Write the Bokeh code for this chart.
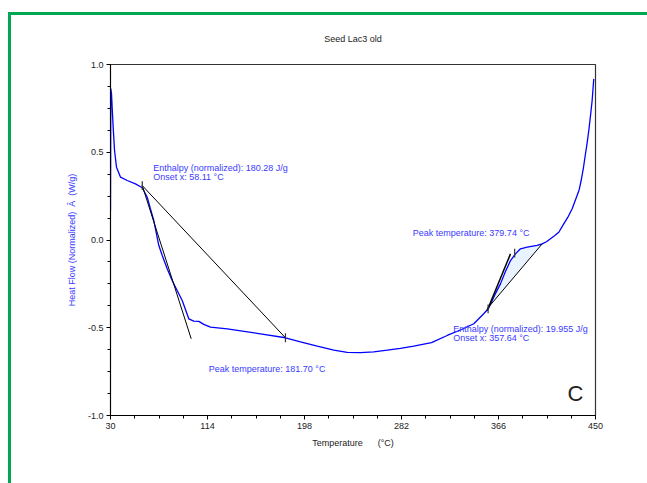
import numpy as np
from bokeh.plotting import figure
from bokeh.models import FixedTicker, Label, NumeralTickFormatter
from bokeh.embed import file_html
from bokeh.resources import INLINE

# ---- data ----
temperature = [30.0, 30.26, 30.87, 32.3, 33.5, 35.2, 38.7, 44.5, 51.6, 57.5, 61.8, 64.5, 67.5,
               71.8, 74.8, 79.1, 83.4, 86.3, 92.1, 97.8, 102.1, 106.5, 110.8, 116.6, 131.1,
               159.9, 181.5, 194.5, 209.0, 223.4, 235.0, 246.5, 258.0, 269.6, 281.1, 292.6,
               308.0, 321.6, 334.0, 344.6, 353.2, 357.3, 359.1, 363.0, 367.7, 372.0, 376.4, 380.7,
               385.0, 390.8, 399.5, 403.8, 407.5, 411.0, 414.5, 418.2, 422.5, 426.5, 429.8, 433.5,
               435.8, 437.6, 439.5, 441.3, 442.8, 444.2, 445.7, 447.1, 448.5]
heat_flow = [0.168, 0.863, 0.833, 0.643, 0.51, 0.415, 0.358, 0.339, 0.32, 0.298, 0.244, 0.18, 0.111,
             -0.03, -0.088, -0.164, -0.231, -0.269, -0.345, -0.449, -0.462, -0.464, -0.481, -0.497, -0.506,
             -0.535, -0.557, -0.58, -0.605, -0.628, -0.64, -0.642, -0.637, -0.628, -0.618, -0.605,
             -0.585, -0.544, -0.51, -0.477, -0.42, -0.39, -0.364, -0.31, -0.25, -0.18, -0.117, -0.079,
             -0.05, -0.041, -0.031, -0.022, -0.01, 0.007, 0.024, 0.044, 0.092, 0.135, 0.178, 0.244,
             0.285, 0.339, 0.41, 0.49, 0.555, 0.624, 0.71, 0.795, 0.918]

x_major = [30, 114, 198, 282, 366, 450]
x_minor = [51, 72, 93, 135, 156, 177, 219, 240, 261, 303, 324, 345, 387, 408, 429]
y_major = [-1.0, -0.5, 0.0, 0.5, 1.0]
y_minor = [-0.875, -0.75, -0.625, -0.375, -0.25, -0.125, 0.125, 0.25, 0.375, 0.625, 0.75, 0.875]

# analysis lines (temperature, heat flow)
tangent1_x = [57.5, 99.9]
tangent1_y = [0.31, -0.563]
baseline1_x = [57.5, 181.5]
baseline1_y = [0.31, -0.557]
tangent2_x = [356.2, 376.4]
tangent2_y = [-0.402, -0.079]
baseline2_x = [356.2, 403.8]
baseline2_y = [-0.392, -0.022]
peak1 = (181.5, -0.557)
peak2 = (380.0, -0.075)
onset1 = (57.5, 0.31)
onset2 = (357.0, -0.392)

BLUE = "#0000ff"
TXT_BLUE = "#3a3aff"
FONT = "Liberation Sans"
GREEN = "#00a651"

p = figure(width=647, height=483, output_backend="svg", toolbar_location=None,
           x_range=(30, 450), y_range=(-1.0, 1.0),
           min_border_left=110, min_border_right=52, min_border_top=64, min_border_bottom=68,
           title="Seed Lac3 old")
p.title.align = "center"
p.title.text_font = FONT
p.title.text_font_size = "9px"
p.title.text_font_style = "normal"
p.title.text_color = "#222222"
p.title.standoff = 42

p.border_fill_color = None
p.background_fill_color = "white"
g = "linear-gradient(%s,%s)" % (GREEN, GREEN)
p.styles = {
    "background": ", ".join([
        g + " 8px 12px / 3px 480px no-repeat",
        g + " 8px 12px / 640px 3px no-repeat",
        "white",
    ])
}

p.xgrid.visible = False
p.ygrid.visible = False
p.outline_line_color = "#333333"
p.outline_line_width = 1.2

for ax in (p.xaxis[0], p.yaxis[0]):
    ax.major_tick_out = 4
    ax.major_tick_in = 0
    ax.minor_tick_out = 3
    ax.minor_tick_in = 0
    ax.axis_line_color = "black"
    ax.major_tick_line_color = "black"
    ax.minor_tick_line_color = "black"
    ax.major_label_text_font = FONT
    ax.major_label_text_font_size = "9px"
    ax.major_label_text_color = "#222222"
    ax.axis_label_text_font = FONT
    ax.axis_label_text_font_size = "9px"
    ax.axis_label_text_font_style = "normal"
    ax.major_label_standoff = 3

p.xaxis.ticker = FixedTicker(ticks=x_major, minor_ticks=x_minor)
p.yaxis.ticker = FixedTicker(ticks=y_major, minor_ticks=y_minor)
p.yaxis.formatter = NumeralTickFormatter(format="0.0")
p.xaxis.axis_label = "Temperature\u00a0\u00a0\u00a0\u00a0\u00a0\u00a0(°C)"
p.xaxis.axis_label_text_color = "#222222"
p.xaxis.axis_label_standoff = 6
p.yaxis.axis_label = "Heat Flow (Normalized)\u00a0\u00a0Â\u00a0\u00a0(W/g)"
p.yaxis.axis_label_text_color = TXT_BLUE
p.yaxis.axis_label_standoff = 8

# filled area between curve and baseline (second event)
t = np.array(temperature)
h = np.array(heat_flow)
mask = (t > baseline2_x[0]) & (t < baseline2_x[1])
fx = [baseline2_x[0]] + list(t[mask]) + [baseline2_x[1]]
fy = [float(np.interp(baseline2_x[0], t, h))] + list(h[mask]) + [float(np.interp(baseline2_x[1], t, h))]
fx += [baseline2_x[1], baseline2_x[0]]
fy += [baseline2_y[1], baseline2_y[0]]
p.patch(fx, fy, fill_color="#e8f3ff", line_color=None)

# curve
p.line(temperature, heat_flow, line_color=BLUE, line_width=1.3)

# analysis lines
p.line(tangent1_x, tangent1_y, line_color="black", line_width=1)
p.line(baseline1_x, baseline1_y, line_color="black", line_width=1)
p.line(tangent2_x, tangent2_y, line_color="black", line_width=1.5)
p.line(baseline2_x, baseline2_y, line_color="black", line_width=1)
for (px, py) in (peak1, peak2, onset1, onset2):
    p.segment(x0=[px], y0=[py - 0.025], x1=[px], y1=[py + 0.025], line_color="#333333", line_width=1.2)

def lab(x, y, text, color=TXT_BLUE, size="9px", anchor="left"):
    p.add_layout(Label(x=x, y=y, text=text, text_font=FONT, text_font_size=size,
                       text_color=color, text_baseline="middle", text_align=anchor))

lab(67.0, 0.411, "Enthalpy (normalized): 180.28 J/g")
lab(67.0, 0.358, "Onset x: 58.11 °C")
lab(115.1, -0.734, "Peak temperature: 181.70 °C")
lab(291.8, 0.041, "Peak temperature: 379.74 °C")
lab(326.8, -0.506, "Enthalpy (normalized): 19.955 J/g")
lab(326.8, -0.56, "Onset x: 357.64 °C")
lab(432.7, -0.875, "C", color="#222222", size="22px", anchor="center")

open("out.html", "w").write(file_html(p, INLINE))
